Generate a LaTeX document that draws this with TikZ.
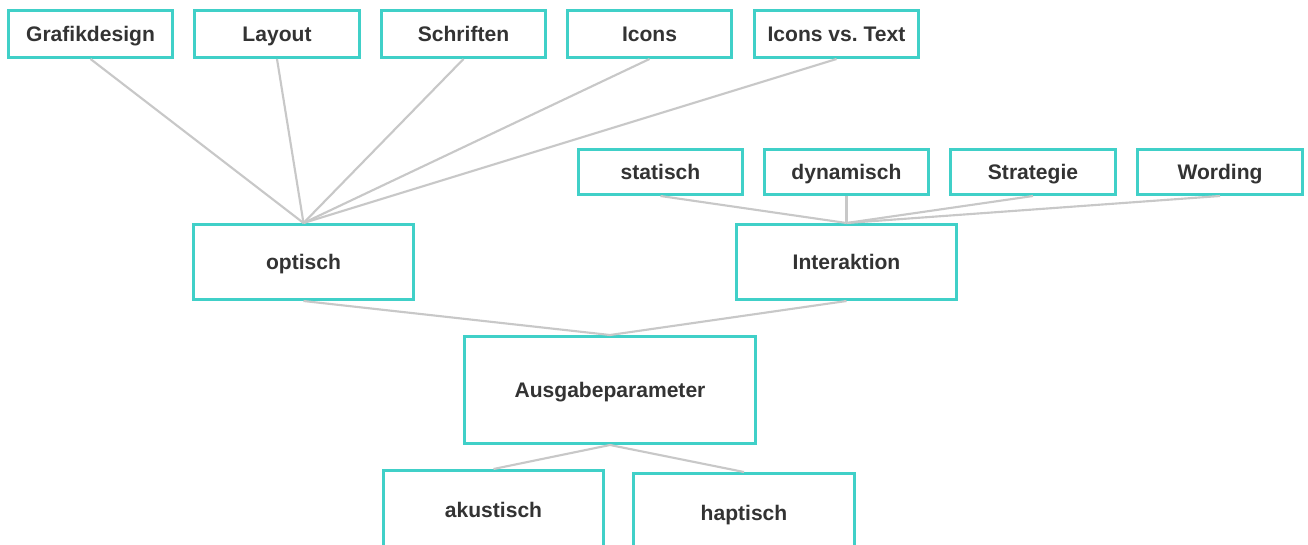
\documentclass[tikz,border=0pt]{standalone}
\usepackage{fontspec}
\setmainfont{Liberation Sans}
\definecolor{boxline}{HTML}{40D0C8}
\definecolor{linkgray}{HTML}{C8C8C8}
\definecolor{labeltext}{HTML}{333333}
\begin{document}
\begin{tikzpicture}[x=0.75pt,y=-0.75pt,
  box/.style n args={2}{draw=boxline, line width=2.2pt, fill=white, inner sep=0pt,
    minimum width={#1*0.75pt-2.2pt}, minimum height={#2*0.75pt-2.2pt},
    text height=11.4pt, text depth=0pt,
    text=labeltext, font=\bfseries\fontsize{15.8pt}{18pt}\selectfont},
  link/.style={draw=linkgray, line width=1.6pt}]
\useasboundingbox (0,0) rectangle (1308,545);

% top row: optical topics
\node[box={167}{50}] (grafik)  at (90.5,34)  {Grafikdesign};
\node[box={168}{50}] (layout)  at (277,34)   {Layout};
\node[box={167}{50}] (schrift) at (463.5,34) {Schriften};
\node[box={167}{50}] (icons)   at (649.5,34) {Icons};
\node[box={167}{50}] (ivt)     at (836.5,34) {Icons vs.\ Text};

% second row: interaction topics
\node[box={167}{48}] (stat)  at (660.5,172) {statisch};
\node[box={167}{48}] (dyn)   at (846.5,172) {dynamisch};
\node[box={168}{48}] (strat) at (1033,172)  {Strategie};
\node[box={168}{48}] (word)  at (1220,172)  {Wording};

% middle level
\node[box={223}{78}] (opt) at (303.5,262) {optisch};
\node[box={223}{78}] (int) at (846.5,262) {Interaktion};

% root
\node[box={294}{110}] (root) at (610,390) {Ausgabeparameter};

% bottom level (boxes run past the lower edge)
\node[box={223}{82}] (aku) at (493.5,510) {akustisch};
\node[box={224}{82}] (hap) at (744,513)   {haptisch};

% connectors
\foreach \c in {grafik,layout,schrift,icons,ivt}
  \draw[link] (\c.south) -- (opt.north);
\foreach \c in {stat,dyn,strat,word}
  \draw[link] (\c.south) -- (int.north);
\draw[link] (opt.south) -- (root.north);
\draw[link] (int.south) -- (root.north);
\draw[link] (root.south) -- (aku.north);
\draw[link] (root.south) -- (hap.north);
\end{tikzpicture}
\end{document}
